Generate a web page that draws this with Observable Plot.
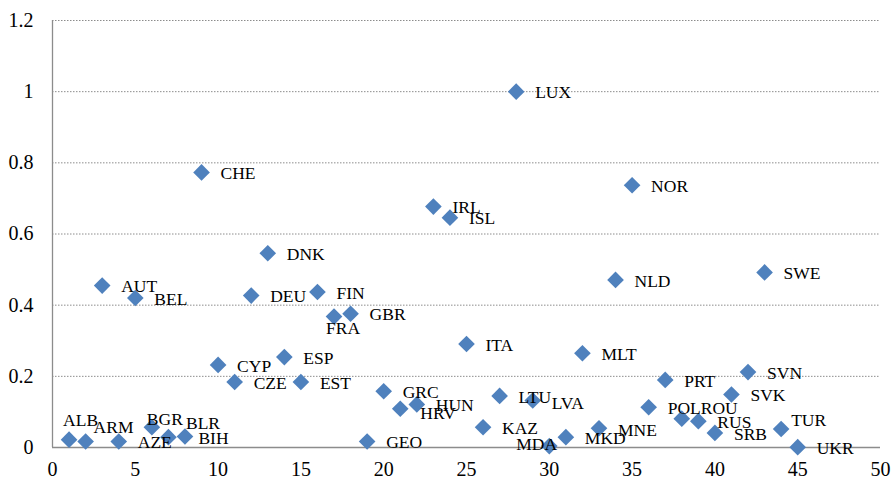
<!DOCTYPE html>
<html>
<head>
<meta charset="utf-8">
<script src="https://cdn.jsdelivr.net/npm/d3@7"></script>
<script src="https://cdn.jsdelivr.net/npm/@observablehq/plot@0.6"></script>
<style>
  html, body { margin: 0; padding: 0; background: #fff; }
  #chart svg { display: block; }
</style>
</head>
<body>
<div id="chart"></div>
<script>
// Country codes (x position = order 1..45)
const countries = ["ALB","ARM","AUT","AZE","BEL","BGR","BIH","BLR","CHE","CYP",
  "CZE","DEU","DNK","ESP","EST","FIN","FRA","GBR","GEO","GRC",
  "HRV","HUN","IRL","ISL","ITA","KAZ","LTU","LUX","LVA","MDA",
  "MKD","MLT","MNE","NLD","NOR","POL","PRT","ROU","RUS","SRB",
  "SVK","SVN","SWE","TUR","UKR"];
const xIndex = countries.map((_, i) => i + 1);
const values = [0.022,0.017,0.455,0.017,0.420,0.057,0.029,0.031,0.773,0.232,
  0.184,0.427,0.546,0.254,0.184,0.437,0.368,0.376,0.017,0.158,
  0.109,0.121,0.677,0.646,0.291,0.057,0.145,1.000,0.132,0.004,
  0.029,0.265,0.054,0.471,0.737,0.113,0.190,0.081,0.074,0.041,
  0.149,0.212,0.492,0.052,0.001];
const xTicks = [0,5,10,15,20,25,30,35,40,45,50];
const yTicks = [0,0.2,0.4,0.6,0.8,1,1.2];

// Label placement tweaks (labels sit right of the point unless listed)
const defaultNudge = [19, 1];
const labelNudge = {
  ALB: [-6, -19], ARM: [8, -14], BGR: [-5, -8], BIH: [30, 1], BLR: [1, -13],
  FRA: [-8, 12], HRV: [20, 5], LVA: [19, 3], MDA: [-33, -2], MNE: [19, 2],
  ROU: [19, -10], TUR: [10, -9]
};

const data = countries.map((c, i) => ({code: c, x: xIndex[i], y: values[i]}));

const serif = "Liberation Serif";
const labelFont = {fontFamily: serif, fontSize: 17.5, fill: "#000"};

const defaultLabels = data.filter(d => !(d.code in labelNudge));
const labelMarks = [
  Plot.text(defaultLabels, {x: "x", y: "y", text: "code", textAnchor: "start",
    dx: defaultNudge[0], dy: defaultNudge[1], ...labelFont}),
  ...Object.entries(labelNudge).map(([code, [dx, dy]]) =>
    Plot.text(data.filter(d => d.code === code), {x: "x", y: "y", text: "code",
      textAnchor: "start", dx, dy, ...labelFont}))
];

const chart = Plot.plot({
  width: 894,
  height: 481,
  marginLeft: 52,
  marginRight: 14,
  marginTop: 20,
  marginBottom: 34,
  style: {fontFamily: serif, background: "#fff"},
  x: {domain: [0, 50]},
  y: {domain: [0, 1.2]},
  marks: [
    Plot.ruleY(yTicks.filter(v => v > 0), {stroke: "#8c8c8c", strokeWidth: 1, strokeDasharray: "1.5,1.5"}),
    Plot.ruleX([0], {stroke: "#8c8c8c", strokeWidth: 1.3}),
    Plot.ruleY([0], {stroke: "#8c8c8c", strokeWidth: 1.3}),
    Plot.axisX({ticks: xTicks, tickSize: 0, tickPadding: 14, fontSize: 20, fontFamily: serif, fill: "#000", tickFormat: d => String(d), label: null}),
    Plot.axisY({ticks: yTicks, tickSize: 0, tickPadding: 19, fontSize: 20, fontFamily: serif, fill: "#000", tickFormat: d => String(d), label: null}),
    Plot.dot(data, {x: "x", y: "y", symbol: "diamond2", r: 7.5, fill: "#4f81bd", stroke: "none"}),
    ...labelMarks
  ]
});
document.getElementById("chart").appendChild(chart);
</script>
</body>
</html>
